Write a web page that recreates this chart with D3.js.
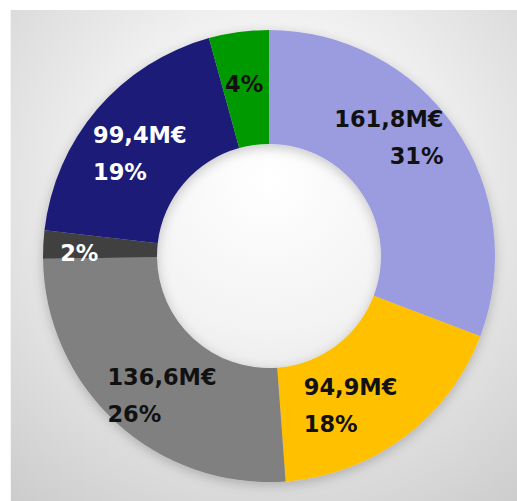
<!DOCTYPE html>
<html>
<head>
<meta charset="utf-8">
<script src="https://cdn.jsdelivr.net/npm/d3@7/dist/d3.min.js"></script>
<style>
  body { margin: 0; background: #fff; }
  svg { display: block; }
</style>
</head>
<body>
<div id="chart"></div>
<script>
// slices, clockwise from 12 o'clock
var categories = ["A", "B", "C", "D", "E", "F"];
var values     = [161.8, 94.9, 136.6, 10.5, 99.4, 22.5];
var amountLabels = ["161,8M€", "94,9M€", "136,6M€", "", "99,4M€", ""];
var pctLabels    = ["31%", "18%", "26%", "2%", "19%", "4%"];

var colors     = ["#9b9be0", "#ffc000", "#808080", "#404040", "#1f1f78", "#009a00"];
var textColors = ["#111", "#111", "#111", "#fff", "#fff", "#111"];
var align      = ["end", "start", "start", "start", "start", "start"];
// small hand nudges, like labels dragged in the spreadsheet
var nudge = [[-20, -22], [-20, 13], [8, 14], [-20, 6], [0, 8], [-2, -4]];

var width = 517, height = 501;
var cx = 269, cy = 256, outerR = 226, innerR = 112, labelR = 170;

var svg = d3.select("#chart").append("svg")
    .attr("width", width).attr("height", height);

var defs = svg.append("defs");
var grad = defs.append("radialGradient").attr("id", "bg")
    .attr("gradientUnits", "userSpaceOnUse")
    .attr("cx", cx).attr("cy", 180).attr("r", 430);
grad.append("stop").attr("offset", "0%").attr("stop-color", "#ffffff");
grad.append("stop").attr("offset", "35%").attr("stop-color", "#f3f3f3");
grad.append("stop").attr("offset", "100%").attr("stop-color", "#c9c9c9");

var shadow = defs.append("filter").attr("id", "shadow")
    .attr("x", "-20%").attr("y", "-20%").attr("width", "140%").attr("height", "140%");
shadow.append("feDropShadow")
    .attr("dx", 0).attr("dy", 3).attr("stdDeviation", 6)
    .attr("flood-color", "#000").attr("flood-opacity", 0.22);

// panel
svg.append("rect")
    .attr("x", 10).attr("y", 10)
    .attr("width", width).attr("height", height)
    .attr("fill", "url(#bg)");
svg.append("line")
    .attr("x1", 10.5).attr("x2", 10.5).attr("y1", 10).attr("y2", height)
    .attr("stroke", "#f4f4f4");

var data = categories.map(function(c, i) {
  return { cat: c, value: values[i], i: i };
});

var pie = d3.pie().sort(null).value(function(d) { return d.value; });
var arc = d3.arc().innerRadius(innerR).outerRadius(outerR);
var labelArc = d3.arc().innerRadius(labelR).outerRadius(labelR);

var g = svg.append("g").attr("transform", "translate(" + cx + "," + cy + ")");

g.append("g").attr("filter", "url(#shadow)")
  .selectAll("path")
  .data(pie(data))
  .enter().append("path")
    .attr("d", arc)
    .attr("fill", function(d) { return colors[d.data.i]; });

var labels = g.selectAll(".lbl")
  .data(pie(data))
  .enter().append("text")
    .attr("class", "lbl")
    .attr("font-family", "DejaVu Sans")
    .attr("font-weight", "bold")
    .attr("font-size", 22.5)
    .attr("fill", function(d) { return textColors[d.data.i]; });

labels.each(function(d) {
  var t = d3.select(this), i = d.data.i;
  var c = labelArc.centroid(d);
  var x = c[0] + nudge[i][0], y = c[1] + nudge[i][1];
  var lines = amountLabels[i] ? [amountLabels[i], pctLabels[i]] : [pctLabels[i]];
  var spans = lines.map(function(s) { return t.append("tspan").text(s); });
  var w = d3.max(spans, function(s) { return s.node().getComputedTextLength(); });
  var y0 = lines.length == 2 ? y - 10 : y + 8;
  spans.forEach(function(s, k) {
    var sw = s.node().getComputedTextLength();
    var sx = align[i] == "end" ? x + w / 2 - sw : x - w / 2;
    s.attr("x", sx).attr("y", y0 + k * 37);
  });
});
</script>
</body>
</html>
